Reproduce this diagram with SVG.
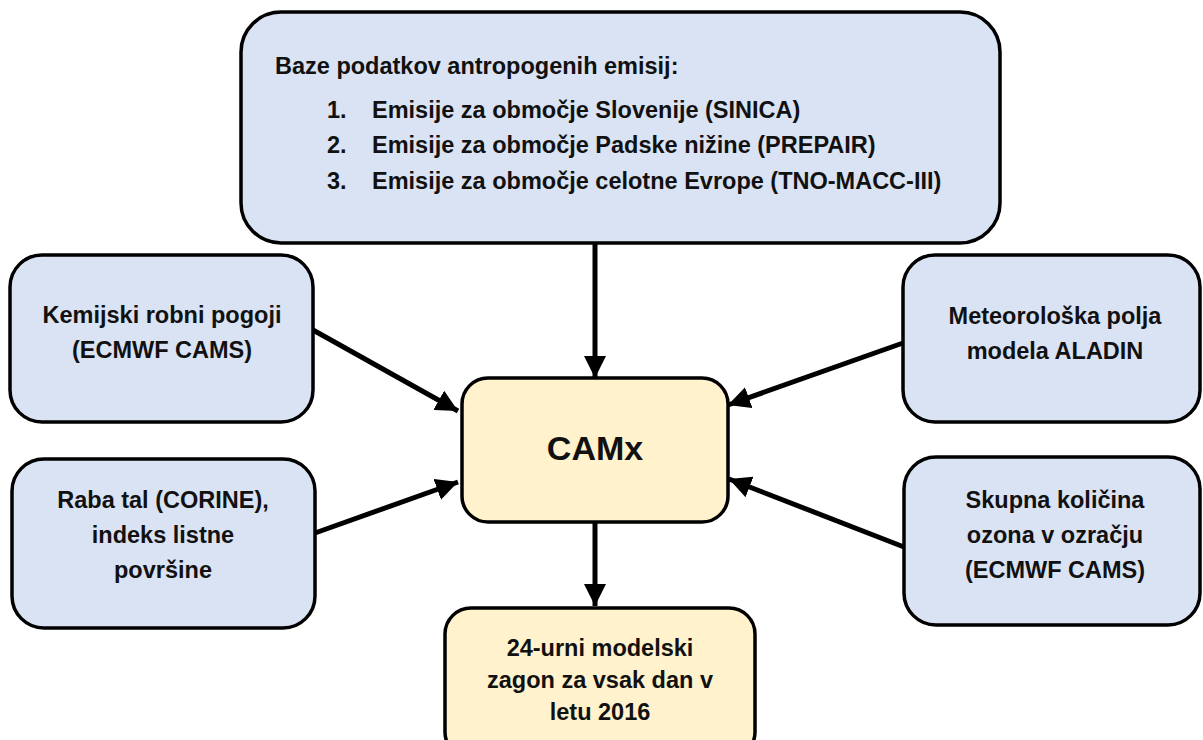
<svg xmlns="http://www.w3.org/2000/svg" width="1203" height="740" viewBox="0 0 1203 740">
<defs>
<style>
.blue{fill:#DAE3F3;stroke:#000;stroke-width:3.5}
.yel{fill:#FFF2CC;stroke:#000;stroke-width:3.5}
text{font-family:"Liberation Sans",Arial,sans-serif;font-weight:bold;font-size:23.5px;fill:#111}
.c{text-anchor:middle}
.con{stroke:#000;stroke-width:5;fill:none;marker-end:url(#ah)}
</style>
<marker id="ah" markerUnits="userSpaceOnUse" markerWidth="24" markerHeight="22" refX="22" refY="11" orient="auto">
<path d="M0,0 L22,11 L0,22 Z" fill="#000"/>
</marker>
</defs>
<rect width="1203" height="740" fill="#fff"/>
<g id="connectors">
<line class="con" x1="595" y1="243" x2="595" y2="378"/>
<line class="con" x1="595" y1="522" x2="595" y2="606"/>
<line class="con" x1="313" y1="330" x2="458" y2="411"/>
<line class="con" x1="315" y1="533" x2="458" y2="482"/>
<line class="con" x1="903" y1="343" x2="728" y2="405"/>
<line class="con" x1="904" y1="547" x2="729" y2="479"/>
</g>
<g id="emisije">
<rect class="blue" x="241" y="12" width="759" height="231" rx="40"/>
<text x="275" y="74">Baze podatkov antropogenih emisij:</text>
<text x="327" y="118">1.</text><text x="372" y="118">Emisije za območje Slovenije (SINICA)</text>
<text x="327" y="153">2.</text><text x="372" y="153">Emisije za območje Padske nižine (PREPAIR)</text>
<text x="327" y="189">3.</text><text x="372" y="189">Emisije za območje celotne Evrope (TNO-MACC-III)</text>
</g>
<g id="kemijski">
<rect class="blue" x="10" y="255" width="303" height="167" rx="32"/>
<text class="c" x="162" y="323">Kemijski robni pogoji</text>
<text class="c" x="162" y="358">(ECMWF CAMS)</text>
</g>
<g id="raba">
<rect class="blue" x="12" y="459" width="303" height="169" rx="32"/>
<text class="c" x="163" y="508">Raba tal (CORINE),</text>
<text class="c" x="163" y="543">indeks listne</text>
<text class="c" x="163" y="578">površine</text>
</g>
<g id="meteo">
<rect class="blue" x="903" y="255" width="297" height="167" rx="32"/>
<text class="c" x="1055" y="324">Meteorološka polja</text>
<text class="c" x="1055" y="359">modela ALADIN</text>
</g>
<g id="ozon">
<rect class="blue" x="904" y="457" width="296" height="168" rx="32"/>
<text class="c" x="1055" y="508">Skupna količina</text>
<text class="c" x="1055" y="543">ozona v ozračju</text>
<text class="c" x="1055" y="578">(ECMWF CAMS)</text>
</g>
<g id="camx">
<rect class="yel" x="462" y="378" width="266" height="144" rx="26"/>
<text class="c" x="595" y="460" style="font-size:34px">CAMx</text>
</g>
<g id="zagon">
<rect class="yel" x="445" y="608" width="310" height="150" rx="26"/>
<text class="c" x="600" y="656">24-urni modelski</text>
<text class="c" x="600" y="688">zagon za vsak dan v</text>
<text class="c" x="600" y="720">letu 2016</text>
</g>
</svg>
